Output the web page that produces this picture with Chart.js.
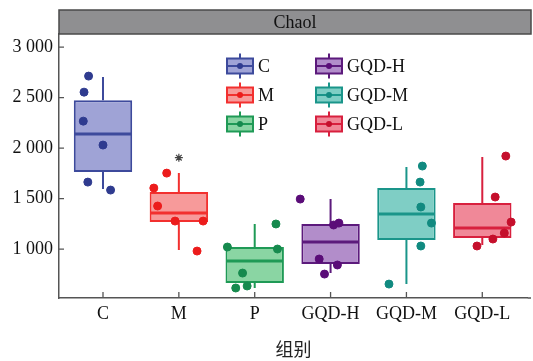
<!DOCTYPE html>
<html>
<head>
<meta charset="utf-8">
<script src="https://cdn.jsdelivr.net/npm/chart.js@4.4.0/dist/chart.umd.min.js"></script>
<style>
  body { margin: 0; background: #fff; }
  #wrap { width: 533px; height: 361px; }
</style>
</head>
<body>
<div id="wrap"><canvas id="myChart"></canvas></div>
<script>
const groups = ["C", "M", "P", "GQD-H", "GQD-M", "GQD-L"];
const q1 = [1762, 1267, 663, 851, 1089, 1109];
const median = [2139, 1356, 881, 1069, 1347, 1208];
const q3 = [2475, 1564, 1020, 1248, 1604, 1455];
const whiskerLow = [1594, 990, 614, 762, 653, 1040];
const whiskerHigh = [2703, 1752, 1248, 1495, 1812, 1911];

// raw samples per group and their horizontal jitter (in category units)
const samples = [
  [2713, 2554, 2267, 2030, 1663, 1584],
  [1604, 1426, 1752, 1277, 1277, 980],
  [1020, 1000, 762, 614, 634, 1248],
  [1495, 1238, 1257, 901, 842, 752],
  [1822, 1663, 1416, 1257, 1030, 653],
  [1921, 1515, 1267, 1158, 1099, 1030],
];
const jitter = [
  [-0.19, -0.25, -0.26, 0.0, -0.2, 0.1],
  [-0.33, -0.28, -0.16, -0.05, 0.32, 0.24],
  [-0.36, 0.3, -0.16, -0.25, -0.1, 0.28],
  [-0.4, 0.04, 0.11, -0.15, 0.09, -0.08],
  [0.21, 0.18, 0.19, 0.33, 0.19, -0.23],
  [0.31, 0.17, 0.38, 0.29, 0.14, -0.07],
];
const starMark = [{ x: 2, y: 1905 }];

const yTicks = [1000, 1500, 2000, 2500, 3000];

const fills = ["#9fa3d6", "#f79a9a", "#8ad5a3", "#b28dca", "#7fcec5", "#f08898"];
const strokes = ["#3d4a9c", "#f2302f", "#1f9a56", "#5c1a7c", "#1a958a", "#d8203e"];
const dots = ["#2f3b8f", "#ec1c1c", "#168a4e", "#5a0c78", "#118a80", "#c50f2c"];

const serif = "'Liberation Serif', 'Noto Sans CJK SC', serif";

const boxData = groups.map((g, i) => ({ x: i + 1, y: [q1[i], q3[i]] }));

const datasets = [
  {
    type: "bar",
    label: "box",
    data: boxData,
    backgroundColor: fills,
    borderColor: strokes,
    borderWidth: 2,
    borderSkipped: false,
    barPercentage: 0.77,
    categoryPercentage: 1,
    order: 3,
  },
];

groups.forEach((g, i) => {
  datasets.push({
    type: "scatter",
    label: g,
    data: samples[i].map((v, k) => ({ x: i + 1 + jitter[i][k], y: v })),
    backgroundColor: dots[i],
    borderColor: dots[i],
    pointRadius: 4,
    pointHoverRadius: 4,
    order: 1,
  });
});

datasets.push({
  type: "scatter",
  label: "star",
  data: starMark,
  pointStyle: "star",
  pointRadius: 4,
  borderColor: "#444",
  borderWidth: 1.2,
  order: 1,
});

// whiskers + median on top of the boxes
const boxExtras = {
  id: "boxExtras",
  afterDatasetDraw(chart, args) {
    if (args.index !== 0) return;
    const ctx = chart.ctx;
    const y = chart.scales.y;
    const meta = chart.getDatasetMeta(0);
    meta.data.forEach((bar, i) => {
      const half = bar.width / 2;
      ctx.save();
      ctx.strokeStyle = strokes[i];
      ctx.lineWidth = 2;
      ctx.beginPath();
      ctx.moveTo(bar.x, y.getPixelForValue(q3[i]));
      ctx.lineTo(bar.x, y.getPixelForValue(whiskerHigh[i]));
      ctx.moveTo(bar.x, y.getPixelForValue(q1[i]));
      ctx.lineTo(bar.x, y.getPixelForValue(whiskerLow[i]));
      ctx.stroke();
      ctx.lineWidth = 3;
      ctx.beginPath();
      const my = y.getPixelForValue(median[i]);
      ctx.moveTo(bar.x - half + 1, my);
      ctx.lineTo(bar.x + half - 1, my);
      ctx.stroke();
      ctx.restore();
    });
  },
};

// header strip, inward ticks and the legend
const decor = {
  id: "decor",
  afterDraw(chart) {
    const ctx = chart.ctx;
    const a = chart.chartArea;
    const xs = chart.scales.x;
    const ys = chart.scales.y;
    const stripRight = chart.width - 2;
    ctx.save();
    // strip
    ctx.fillStyle = "#8f8f91";
    ctx.fillRect(a.left, 10, stripRight - a.left, a.top - 10);
    ctx.strokeStyle = "#4a4a4a";
    ctx.lineWidth = 1.5;
    ctx.strokeRect(a.left, 10, stripRight - a.left, a.top - 10);
    ctx.fillStyle = "#111";
    ctx.font = "18px " + serif;
    ctx.textAlign = "center";
    ctx.textBaseline = "middle";
    ctx.fillText("Chaol", (a.left + stripRight) / 2, (10 + a.top) / 2 + 1);

    // inward ticks
    ctx.strokeStyle = "#555";
    ctx.lineWidth = 1.3;
    ctx.beginPath();
    yTicks.forEach((v) => {
      const p = ys.getPixelForValue(v);
      ctx.moveTo(a.left, p);
      ctx.lineTo(a.left + 5, p);
    });
    groups.forEach((g, i) => {
      const p = xs.getPixelForValue(i + 1);
      ctx.moveTo(p, a.bottom);
      ctx.lineTo(p, a.bottom - 6);
    });
    ctx.stroke();

    // x axis line runs to the strip's right edge
    ctx.lineWidth = 1.5;
    ctx.beginPath();
    ctx.moveTo(a.right, a.bottom);
    ctx.lineTo(stripRight, a.bottom);
    ctx.stroke();

    // legend, 2 columns x 3 rows
    const colX = [a.left + 168, a.left + 257];
    const rowY = [a.top + 32, a.top + 61, a.top + 90];
    ctx.font = "18px " + serif;
    ctx.textAlign = "left";
    ctx.textBaseline = "middle";
    groups.forEach((g, i) => {
      const cx = colX[Math.floor(i / 3)];
      const cy = rowY[i % 3];
      const w = 26, h = 15;
      const mid = cx + w / 2;
      ctx.fillStyle = fills[i];
      ctx.fillRect(cx, cy - h / 2, w, h);
      ctx.strokeStyle = strokes[i];
      ctx.lineWidth = 2;
      ctx.strokeRect(cx, cy - h / 2, w, h);
      ctx.beginPath();
      ctx.moveTo(mid, cy - h / 2 - 5);
      ctx.lineTo(mid, cy - h / 2);
      ctx.moveTo(mid, cy + h / 2);
      ctx.lineTo(mid, cy + h / 2 + 5);
      ctx.moveTo(cx, cy);
      ctx.lineTo(cx + w, cy);
      ctx.stroke();
      ctx.fillStyle = dots[i];
      ctx.beginPath();
      ctx.arc(mid, cy, 3, 0, Math.PI * 2);
      ctx.fill();
      ctx.fillStyle = "#111";
      ctx.fillText(g, cx + w + 5, cy + 1);
    });
    ctx.restore();
  },
};

const config = {
  data: { datasets: datasets },
  options: {
    responsive: true,
    maintainAspectRatio: false,
    animation: false,
    layout: { padding: { top: 34, right: 0, left: 0, bottom: 0 } },
    plugins: {
      legend: { display: false },
      tooltip: { enabled: false },
    },
    scales: {
      x: {
        type: "linear",
        min: 0.42,
        max: 6.6,
        offset: false,
        grid: { display: false, drawTicks: false, offset: false },
        border: { display: true, color: "#555", width: 1.5 },
        afterBuildTicks: (scale) => {
          scale.ticks = groups.map((g, i) => ({ value: i + 1 }));
        },
        afterFit: (scale) => {
          scale.height = 63;
        },
        ticks: {
          padding: 5,
          color: "#111",
          font: { family: serif, size: 18 },
          maxRotation: 0,
          autoSkip: false,
          callback: (v) => groups[v - 1] || "",
        },
        title: {
          display: true,
          text: "组别",
          color: "#222",
          font: { family: "'Noto Sans CJK SC', sans-serif", size: 18 },
          padding: { top: 0, bottom: 1 },
        },
      },
      y: {
        type: "linear",
        min: 515,
        max: 3130,
        grid: { display: false, drawTicks: false },
        border: { display: true, color: "#555", width: 1.5 },
        afterBuildTicks: (scale) => {
          scale.ticks = yTicks.map((v) => ({ value: v }));
        },
        afterFit: (scale) => {
          scale.width = 59;
        },
        ticks: {
          padding: 6,
          color: "#111",
          font: { family: serif, size: 18 },
          callback: (v) => String(v).replace(/\B(?=(\d{3})+(?!\d))/g, " "),
        },
      },
    },
  },
  plugins: [boxExtras, decor],
};

const myChart = new Chart(document.getElementById("myChart"), config);
</script>
</body>
</html>
